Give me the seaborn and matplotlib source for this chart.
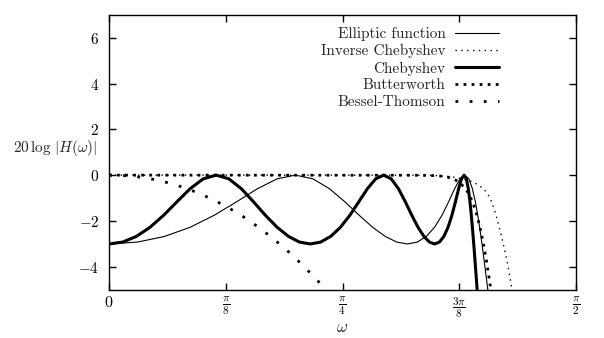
import matplotlib
matplotlib.use("Agg")
import numpy as np
import pandas as pd
import seaborn as sns
import matplotlib.pyplot as plt

# Magnitude responses (dB) of five low-pass filter families, sampled in omega (rad)
cheb_w = [0.0000, 0.0461, 0.0920, 0.1378, 0.1833, 0.2284, 0.2730, 0.3170, 0.3605,
          0.4032, 0.4451, 0.4862, 0.5263, 0.5657, 0.6037, 0.6409, 0.6769,
          0.7119, 0.7457, 0.7783, 0.8098, 0.8401, 0.8692, 0.8971, 0.9238,
          0.9493, 0.9736, 0.9968, 1.0187, 1.0395, 1.0592, 1.0777, 1.0950,
          1.1113, 1.1264, 1.1404, 1.1533, 1.1652, 1.1760, 1.1857, 1.1944,
          1.2020, 1.2086, 1.2142, 1.2187, 1.2223, 1.2248, 1.2263, 1.2268,
          1.2292, 1.2315, 1.2362, 1.2409]
cheb_db = [-3.010, -2.927, -2.679, -2.282, -1.761, -1.168, -0.593, -0.162, 0.0,
           -0.162, -0.593, -1.168, -1.761, -2.282, -2.679, -2.927, -3.010,
           -2.927, -2.679, -2.282, -1.761, -1.168, -0.593, -0.162, 0.0,
           -0.162, -0.593, -1.168, -1.761, -2.282, -2.679, -2.927, -3.010,
           -2.927, -2.679, -2.282, -1.761, -1.168, -0.593, -0.162, 0.0,
           -0.162, -0.593, -1.168, -1.761, -2.282, -2.679, -2.927, -3.010,
           -3.406, -3.810, -4.630, -5.470]

ellip_w = [0.0000, 0.0960, 0.1870, 0.2725, 0.3530, 0.4290, 0.4995, 0.5655, 0.6270,
           0.6860, 0.7415, 0.7935, 0.8420, 0.8870, 0.9290, 0.9680, 1.0040,
           1.0370, 1.0672, 1.0948, 1.1198, 1.1423, 1.1626, 1.1806, 1.1966,
           1.2104, 1.2223, 1.2322, 1.2404, 1.2466, 1.2511, 1.2537, 1.2546,
           1.2644, 1.2741, 1.2838]
ellip_db = [-3.010, -2.927, -2.679, -2.282, -1.761, -1.168, -0.593, -0.162, 0.0,
            -0.162, -0.593, -1.168, -1.761, -2.282, -2.679, -2.927, -3.010,
            -2.927, -2.679, -2.282, -1.761, -1.168, -0.593, -0.162, 0.0,
            -0.162, -0.593, -1.168, -1.761, -2.282, -2.679, -2.927, -3.010,
            -4.000, -5.000, -6.000]

butter_w = [0.0, 1.05, 1.10, 1.12, 1.14, 1.16, 1.18, 1.20, 1.21, 1.22, 1.23,
            1.24, 1.25, 1.26, 1.27, 1.28, 1.29]
butter_db = [0.0, -0.005, -0.024, -0.047, -0.091, -0.175, -0.327, -0.607, -0.815,
             -1.088, -1.436, -1.871, -2.403, -3.037, -3.778, -4.618, -5.550]

invcheb_w = [0.0, 1.05, 1.10, 1.15, 1.19, 1.22, 1.2417, 1.2630, 1.2798, 1.2888,
             1.2989, 1.3090, 1.3191, 1.3292, 1.3393, 1.3460, 1.3527, 1.3580]
invcheb_db = [0.0, -0.005, -0.02, -0.07, -0.16, -0.28, -0.42, -0.64, -0.95, -1.22,
              -1.62, -2.10, -2.62, -3.18, -3.78, -4.25, -4.80, -5.40]

bessel_w = [0.00, 0.05, 0.10, 0.15, 0.20, 0.25, 0.30, 0.35, 0.40, 0.45, 0.50,
            0.55, 0.60, 0.65, 0.70, 0.75]
bessel_db = [0.0, -0.021, -0.083, -0.188, -0.338, -0.534, -0.778, -1.069, -1.411,
             -1.804, -2.250, -2.750, -3.305, -3.917, -4.586, -5.316]

x_ticks = [0, np.pi / 8, np.pi / 4, 3 * np.pi / 8, np.pi / 2]
x_ticklabels = [r"$0$", r"$\frac{\pi}{8}$", r"$\frac{\pi}{4}$",
                r"$\frac{3\pi}{8}$", r"$\frac{\pi}{2}$"]
y_ticks = [-4, -2, 0, 2, 4, 6]
y_ticklabels = [r"$-4$", r"$-2$", r"$0$", r"$2$", r"$4$", r"$6$"]

sns.set_theme(style="white")
plt.rcParams.update({
    "font.family": ["cmr10", "DejaVu Serif"],
    "mathtext.fontset": "cm",
    "lines.scale_dashes": False,
    "axes.edgecolor": "black",
    "axes.linewidth": 1.0,
})

fig = plt.figure(figsize=(6.04, 3.38), dpi=100)
ax = fig.add_axes([109 / 604, 1 - 289.5 / 338, 467 / 604, 274.5 / 338])

series = [
    ("Elliptic function", ellip_w, ellip_db, dict(linewidth=0.8, linestyle="-")),
    ("Inverse Chebyshev", invcheb_w, invcheb_db, dict(linewidth=1.0, linestyle=(0, (1.0, 3.2)))),
    ("Chebyshev", cheb_w, cheb_db, dict(linewidth=2.2, linestyle="-")),
    ("Butterworth", butter_w, butter_db, dict(linewidth=2.0, linestyle=(0, (2.0, 3.8)))),
    ("Bessel-Thomson", bessel_w, bessel_db, dict(linewidth=2.0, linestyle=(0, (2.0, 8.2)))),
]
for name, w, db, style in series:
    df = pd.DataFrame({"omega": w, "gain": db})
    sns.lineplot(data=df, x="omega", y="gain", ax=ax, color="black", label=name,
                 sort=False, estimator=None, errorbar=None, **style)

ax.set_xlim(0, np.pi / 2)
ax.set_ylim(-5, 7)
ax.set_xticks(x_ticks)
ax.set_xticklabels(x_ticklabels, fontsize=11.5)
ax.set_yticks(y_ticks)
ax.set_yticklabels(y_ticklabels, fontsize=11)
ax.tick_params(direction="in", length=5, width=1.0, top=True, right=True,
               bottom=True, left=True, pad=7, colors="black")
ax.tick_params(axis="x", pad=4)
ax.set_xlabel(r"$\omega$", fontsize=12, va="center")
ax.xaxis.set_label_coords(0.5, -(327 - 289.5) / 274.5)
ax.set_ylabel("")
for sp in ax.spines.values():
    sp.set_visible(True)
    sp.set_color("black")

fig.text(13 / 604, 1 - 148 / 338, r"$20\,\log\,|H(\omega)|$", fontsize=11,
         ha="left", va="center")

ax.legend(loc="upper right", bbox_to_anchor=((499 - 109) / 467, (289.5 - 27) / 274.5),
          frameon=False, markerfirst=False, handlelength=2.9, handletextpad=0.6,
          labelspacing=0.2, borderpad=0, borderaxespad=0, fontsize=11)

fig.savefig("out.png", dpi=100)
